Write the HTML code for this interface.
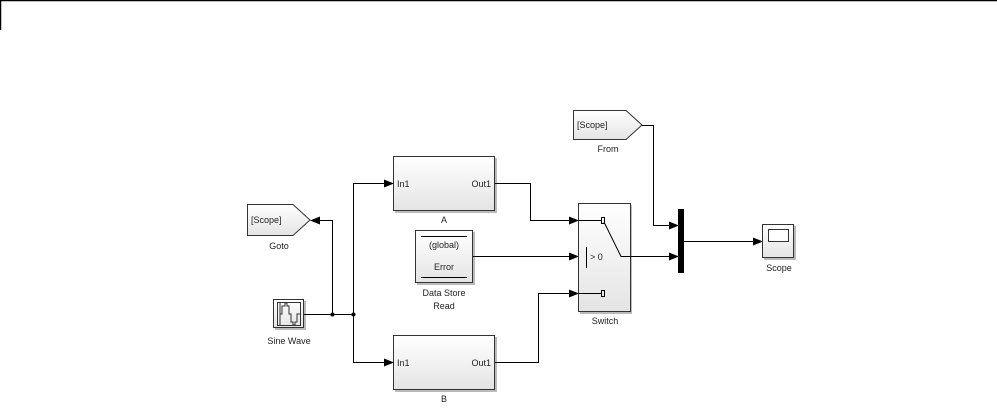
<!DOCTYPE html>
<html><head><style>
html,body{margin:0;padding:0;background:#fff;}
svg{display:block;font-family:"Liberation Sans",Arial,sans-serif;}
</style></head><body>
<svg width="997" height="415" viewBox="0 0 997 415">
<defs>
<linearGradient id="g" x1="0" y1="0" x2="0" y2="1"><stop offset="0" stop-color="#ffffff"/><stop offset="1" stop-color="#e4e4e4"/></linearGradient>
<marker id="a" markerWidth="10" markerHeight="8" refX="9" refY="4" orient="auto" markerUnits="userSpaceOnUse"><path d="M0,0 L10,4 L0,8 z" fill="#000"/></marker>
</defs>
<line x1="0" y1="0.5" x2="997" y2="0.5" stroke="#000" stroke-width="1.5"/>
<line x1="0.5" y1="0" x2="0.5" y2="30" stroke="#000" stroke-width="1.5"/>

<g stroke="#555" stroke-width="1.5">
<!-- shadows -->
<rect x="395" y="158" width="102" height="55" fill="#bbb" stroke="none"/>
<rect x="395" y="337" width="102" height="55" fill="#bbb" stroke="none"/>
<rect x="417" y="232" width="58" height="53" fill="#bbb" stroke="none"/>
<rect x="580" y="205" width="52" height="109" fill="#bbb" stroke="none"/>
<rect x="275" y="301" width="31" height="29" fill="#bbb" stroke="none"/>
<rect x="764" y="226" width="32" height="34" fill="#bbb" stroke="none"/>
</g>
<g stroke="#333" stroke-width="1" fill="url(#g)">
<rect x="393.5" y="156.5" width="101" height="54"/>
<rect x="393.5" y="335.5" width="101" height="54"/>
<rect x="415.5" y="230.5" width="57" height="52"/>
<rect x="578.5" y="203.5" width="52" height="108"/>
<rect x="273.5" y="299.5" width="30" height="28"/>
<rect x="762.5" y="224.5" width="31" height="33"/>
<path d="M247.5,204.5 H293 L310,220 L293,235.5 H247.5 Z"/>
<path d="M573.5,110.5 H626 L642,125 L626,139.5 H573.5 Z"/>
</g>
<rect x="678" y="209" width="6" height="64" fill="#000"/>
<!-- scope inner -->
<rect x="768.5" y="229.5" width="20" height="12" fill="#fff" stroke="#333"/>
<!-- DSR lines -->
<line x1="421" y1="236.5" x2="467" y2="236.5" stroke="#000"/>
<line x1="421" y1="277.5" x2="467" y2="277.5" stroke="#000"/>
<!-- sine icon -->
<g stroke="#333" stroke-width="1" fill="none">
<rect x="277.5" y="302.5" width="23" height="23"/>
<line x1="280" y1="303" x2="280" y2="325"/>
<path d="M280,314 H282 V306 H285 V303 H287 V306 H289 V314 H291 V322 H293 V325 H295 V322 H297 V314 H300"/>
</g>
<!-- wires -->
<g stroke="#000" stroke-width="1" fill="none">
<path d="M304,314.5 H353.5"/>
<path d="M332.5,314.5 V220.5 H311" marker-end="url(#a)"/>
<path d="M353.5,314.5 V183.5 H393" marker-end="url(#a)"/>
<path d="M353.5,314.5 V362.5 H393" marker-end="url(#a)"/>
<path d="M495,183.5 H530.5 V220.5 H578" marker-end="url(#a)"/>
<path d="M473,256.5 H578" marker-end="url(#a)"/>
<path d="M495,362.5 H538.5 V293.5 H578" marker-end="url(#a)"/>
<path d="M631,256.5 H678" marker-end="url(#a)"/>
<path d="M642,125.5 H653.5 V225.5 H678" marker-end="url(#a)"/>
<path d="M684,241.5 H762" marker-end="url(#a)"/>
<!-- switch internals -->
<path d="M579,220.5 H601"/>
<path d="M579,293.5 H601"/>
<rect x="601.5" y="217.5" width="3" height="6"/>
<rect x="601.5" y="290.5" width="3" height="6"/>
<path d="M604,222 L621,256.5 H631"/>
<path d="M586.5,247 V268"/>
</g>
<circle cx="332.5" cy="314.5" r="2" fill="#000"/>
<circle cx="353.5" cy="314.5" r="2" fill="#000"/>
<!-- texts -->
<g font-size="9" fill="#222">
<text x="397" y="187">In1</text>
<text x="491" y="187" text-anchor="end">Out1</text>
<text x="397" y="366">In1</text>
<text x="491" y="366" text-anchor="end">Out1</text>
<text x="444" y="248" text-anchor="middle">(global)</text>
<text x="444" y="270" text-anchor="middle">Error</text>
<text x="251" y="223">[Scope]</text>
<text x="577" y="128">[Scope]</text>
<text x="590" y="260">&gt; 0</text>
<text x="444" y="223" text-anchor="middle">A</text>
<text x="444" y="402" text-anchor="middle">B</text>
<text x="279" y="249" text-anchor="middle">Goto</text>
<text x="289" y="344" text-anchor="middle">Sine Wave</text>
<text x="444" y="296" text-anchor="middle">Data Store</text>
<text x="444" y="309" text-anchor="middle">Read</text>
<text x="605" y="324" text-anchor="middle">Switch</text>
<text x="608" y="152" text-anchor="middle">From</text>
<text x="779" y="271" text-anchor="middle">Scope</text>
</g>
</svg>
</body></html>
